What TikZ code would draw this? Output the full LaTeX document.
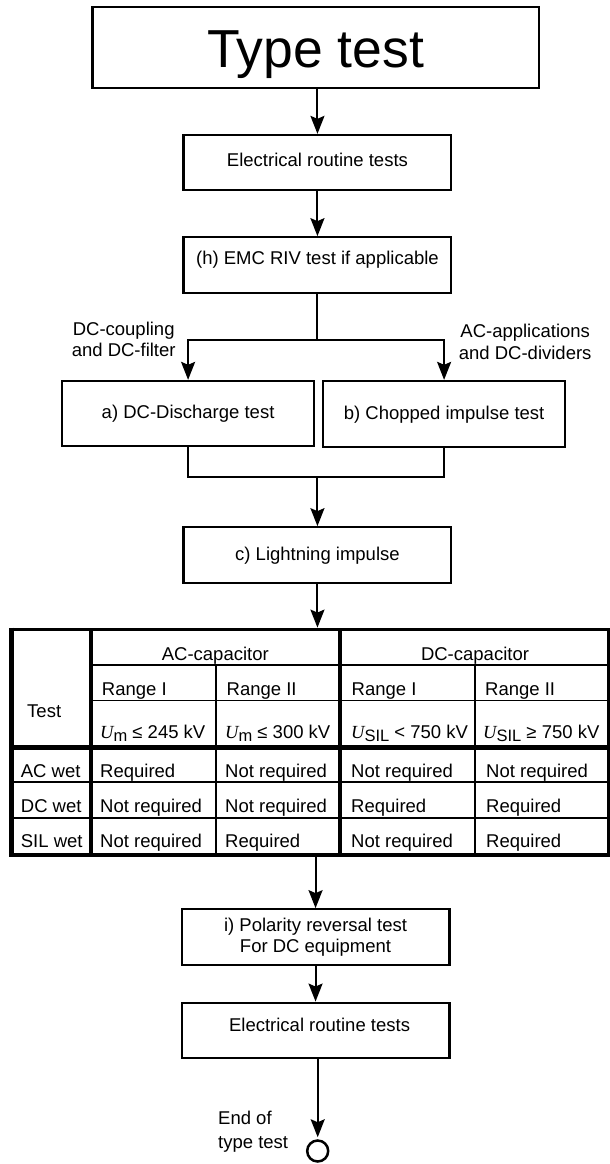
\documentclass[tikz,border=0pt]{standalone}
\usepackage{fontspec}
\setmainfont{Liberation Sans}
\newfontfamily\timesfont{Liberation Serif}
\usetikzlibrary{arrows.meta}
\newcommand\tfs{\fontsize{18.5}{21.3}\selectfont}
\newcommand\Uq[1]{{\timesfont\itshape U}\raisebox{-3.5pt}{\fontsize{16.5}{16.5}\selectfont #1}}
\begin{document}
\begin{tikzpicture}[x=1pt,y=-1pt,
  box/.style={draw, line width=2.3pt, inner sep=0pt, align=center, font=\tfs, text height=13.25pt},
  conn/.style={line width=2pt},
  arr/.style={conn, -{Stealth[length=18pt,width=14pt,inset=3pt]}},
  lbl/.style={font=\tfs, inner sep=0pt, align=center},
  tt/.style={font=\tfs, inner sep=0pt, anchor=base west},
  tc/.style={font=\tfs, inner sep=0pt, anchor=base},
  tmed/.style={line width=2pt},
  tthin/.style={line width=1.4pt}]
\useasboundingbox (0,0) rectangle (610,1164);

% boxes
\node[box, minimum width=446.2pt, minimum height=81.6pt, font=\fontsize{53.5}{60}\selectfont, text height=40.5pt, text depth=0pt] (type) at (315.7,47.5) {Type test};
\node[box, minimum width=267.7pt, minimum height=55.3pt, text depth=4.6pt] (elec1) at (317.45,162.65) {Electrical routine tests};
\node[box, minimum width=267.7pt, minimum height=56pt, text depth=14.6pt] (emc) at (317.45,265.3) {(h) EMC RIV test if applicable};
\node[box, minimum width=251.8pt, minimum height=64.7pt, text depth=3.4pt] (a) at (188.1,413.35) {a) DC-Discharge test};
\node[box, minimum width=241.6pt, minimum height=65.7pt, text depth=1pt] (b) at (444.1,413.85) {b) Chopped impulse test};
\node[box, minimum width=267.7pt, minimum height=56pt, text depth=2.6pt] (c) at (317.45,555.3) {c) Lightning impulse};
\node[box, minimum width=267.7pt, minimum height=55.7pt, text height={}, text depth={}, font=\fontsize{18.5}{21}\selectfont] (pol) at (315.55,937.15) {i) Polarity reversal test\\For DC equipment};
\node[box, minimum width=267.7pt, minimum height=55.6pt, text depth=11pt] (elec2) at (315.55,1030.5) {\hspace*{8pt}Electrical routine tests};
\node[draw, circle, line width=2.5pt, minimum size=21pt, inner sep=0pt] (endc) at (317.7,1151) {};

% labels
\node[lbl] (lblL) at (123.7,339.1) {DC-coupling\\and DC-filter};
\node[lbl] (lblR) at (525.2,341.9) {AC-applications\\and DC-dividers};
\node[lbl, align=left, anchor=west, font=\fontsize{18.5}{24.3}\selectfont] (endl) at (218,1131.4) {End of\\type test};

% connectors
\draw[arr] (type.south -| elec1.north) -- (elec1.north);
\draw[arr] (elec1) -- (emc);
\coordinate (split) at (317.45,340);
\draw[conn] (emc.south) -- (split);
\draw[arr] (split) -| (a.north);
\draw[arr] (split) -| (b.north);
\coordinate (join) at (317.45,477.3);
\draw[conn] (a.south) |- (join) -| (b.south);
\draw[arr] (join) -- (c.north);
\coordinate (tin) at (317.45,627.6);
\draw[arr] (c.south) -- (tin);
\coordinate (tout) at (315.55,857);
\draw[arr] (tout) -- (pol.north);
\draw[arr] (pol) -- (elec2);
\draw[arr, shorten >=2pt] (elec2.south -| endc.north) -- (endc.north);

% table lines
\draw[line width=4.5pt] (11.7,627.5) -- (11.7,857);
\draw[line width=3.5pt] (9.5,629.5) -- (610,629.5);
\draw[line width=2.5pt] (608.7,628) -- (608.7,857);
\draw[line width=4pt] (9.5,855) -- (610,855);
\draw[line width=4pt] (90.5,629.5) -- (90.5,855);
\draw[line width=3.5pt] (340,629.5) -- (340,855);
\draw[tmed] (216,665) -- (216,855);
\draw[tmed] (475.3,665) -- (475.3,855);
\draw[tmed] (90.5,665) -- (608.7,665);
\draw[tthin] (90.5,700.5) -- (608.7,700.5);
\draw[line width=4.5pt] (11.7,747.5) -- (608.7,747.5);
\draw[tmed] (11.7,782) -- (608.7,782);
\draw[tmed] (11.7,818.3) -- (608.7,818.3);

% table text
\node[tt] (t-test) at (27,717.5) {Test};
\node[tc] (t-ac) at (215.3,660) {AC-capacitor};
\node[tc] (t-dc) at (475,660) {DC-capacitor};
\node[tt] (t-r1) at (101.7,695) {Range I};
\node[tt] (t-r2) at (226.5,695) {Range II};
\node[tt] (t-r3) at (351.5,695) {Range I};
\node[tt] (t-r4) at (485,695) {Range II};
\node[tt] (t-u1) at (100,738) {\Uq{m} ≤ 245 kV};
\node[tt] (t-u2) at (225,738) {\Uq{m} ≤ 300 kV};
\node[tt] (t-u3) at (351,738) {\Uq{SIL} < 750 kV};
\node[tt] (t-u4) at (483,738) {\Uq{SIL} ≥ 750 kV};

\node[tt] (t-acw) at (20.7,777.3) {AC wet};
\node[tt] (t-dcw) at (20.7,812.5) {DC wet};
\node[tt] (t-silw) at (20.7,847.3) {SIL wet};

\node[tt] (c11) at (100,777.3) {Required};
\node[tt] (c12) at (225,777.3) {Not required};
\node[tt] (c13) at (351,777.3) {Not required};
\node[tt] (c14) at (486,777.3) {Not required};
\node[tt] (c21) at (100,812.5) {Not required};
\node[tt] (c22) at (225,812.5) {Not required};
\node[tt] (c23) at (351,812.5) {Required};
\node[tt] (c24) at (486,812.5) {Required};
\node[tt] (c31) at (100,847.3) {Not required};
\node[tt] (c32) at (225,847.3) {Required};
\node[tt] (c33) at (351,847.3) {Not required};
\node[tt] (c34) at (486,847.3) {Required};
\end{tikzpicture}
\end{document}
